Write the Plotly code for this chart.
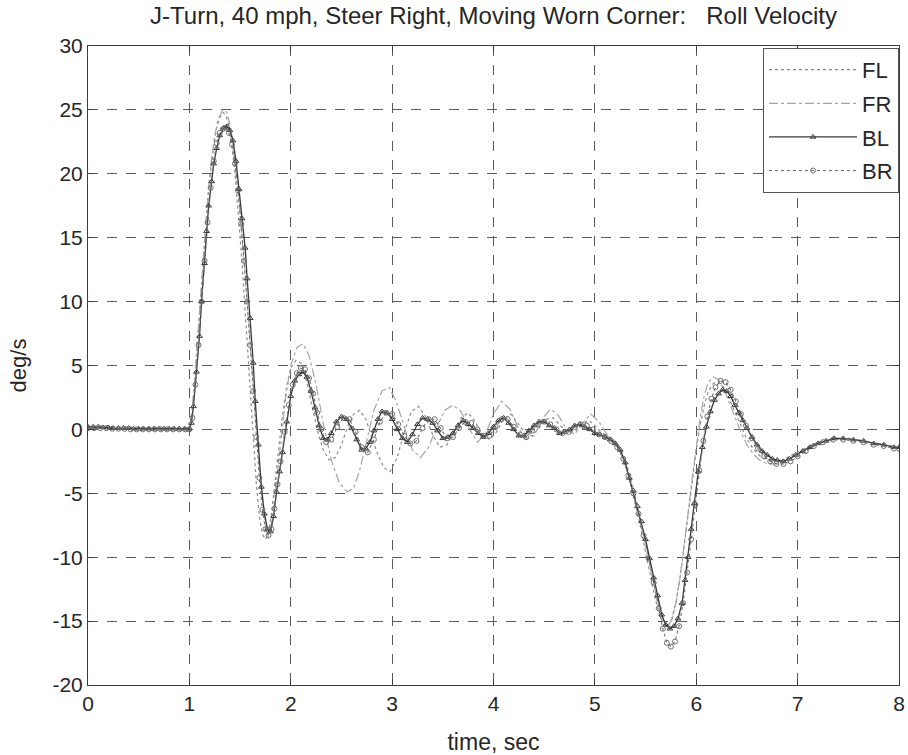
import plotly.graph_objects as go

# ---- time axis and roll-velocity samples (deg/s) for each corner ----
t_bl = [0.00, 0.05, 0.10, 0.15, 0.20, 0.25, 0.30, 0.35, 0.40, 0.45, 0.50, 0.55, 0.60, 0.65,
        0.70, 0.75, 0.80, 0.85, 0.90, 0.95, 1.00,
        1.02, 1.04, 1.07, 1.10, 1.12, 1.15, 1.17, 1.19, 1.22, 1.24, 1.27, 1.30, 1.34, 1.37,
        1.40, 1.43, 1.46, 1.49, 1.52, 1.55, 1.57, 1.60, 1.63, 1.65, 1.68, 1.71, 1.74, 1.77,
        1.80, 1.83, 1.86, 1.89, 1.92, 1.96, 2.00, 2.04, 2.08, 2.12, 2.16, 2.20, 2.24, 2.28,
        2.32, 2.36, 2.40, 2.45, 2.50, 2.55, 2.60, 2.65, 2.70, 2.74, 2.78, 2.82, 2.86, 2.90,
        2.95, 3.00, 3.05, 3.10, 3.15, 3.20, 3.25, 3.30, 3.35, 3.40, 3.45, 3.50, 3.55, 3.60,
        3.65, 3.70, 3.75, 3.80, 3.85, 3.90, 3.95, 4.00, 4.05, 4.10, 4.15, 4.20, 4.25, 4.30,
        4.35, 4.40, 4.45, 4.50, 4.55, 4.60, 4.65, 4.70, 4.75, 4.80, 4.85, 4.90, 4.95, 5.00,
        5.05, 5.10, 5.15, 5.20, 5.25, 5.30, 5.34, 5.38, 5.42, 5.46, 5.50, 5.54, 5.58, 5.62,
        5.66, 5.70, 5.74, 5.78, 5.82, 5.86, 5.89, 5.92, 5.95, 5.98, 6.02, 6.06, 6.10, 6.14,
        6.18, 6.22, 6.26, 6.30, 6.34, 6.38, 6.42, 6.46, 6.50, 6.55, 6.60, 6.65, 6.70, 6.75,
        6.80, 6.86, 6.92, 6.98, 7.05, 7.12, 7.20, 7.28, 7.36, 7.45, 7.55, 7.65, 7.75, 7.85,
        7.95, 8.00]
v_bl = [0.2, 0.2, 0.2, 0.15, 0.15, 0.1, 0.1, 0.1, 0.1, 0.05, 0.05, 0.05, 0.05, 0.05,
        0.05, 0.05, 0.05, 0.05, 0.05, 0.05, 0.05,
        0.5, 1.8, 4.5, 7.3, 10.0, 13.0, 15.5, 17.5, 19.4, 20.8, 22.0, 23.0, 23.6, 23.7,
        23.4, 22.6, 21.0, 18.8, 16.5, 14.2, 11.8, 8.7, 5.2, 2.2, -1.2, -4.5, -6.6, -7.8,
        -8.0, -6.8, -4.9, -3.3, -1.8, 0.6, 2.6, 3.8, 4.3, 4.5, 4.1, 3.0, 1.7, 0.3,
        -0.7, -0.8, -0.3, 0.6, 1.0, 0.8, 0.1, -0.8, -1.6, -1.5, -1.0, -0.1, 0.8, 1.4,
        1.3, 0.8, 0.0, -0.7, -1.0, -0.4, 0.4, 0.9, 0.8, 0.5, -0.1, -0.7, -0.6, -0.3,
        0.3, 0.7, 0.4, 0.1, -0.3, -0.6, -0.3, 0.2, 0.7, 0.9, 0.5, 0.0, -0.5, -0.5,
        -0.1, 0.3, 0.6, 0.6, 0.3, 0.1, -0.3, -0.2, 0.0, 0.3, 0.4, 0.2, 0.0, -0.3,
        -0.4, -0.6, -0.8, -1.1, -1.6, -2.6, -3.8, -4.8, -6.0, -7.2, -8.6, -10.1, -11.6, -13.0,
        -14.5, -15.3, -15.6, -15.4, -14.8, -13.6, -11.8, -10.0, -7.8, -5.8, -3.3, -1.4, 0.2, 1.4,
        2.3, 2.8, 3.1, 3.0, 2.6, 1.9, 1.3, 0.7, 0.1, -0.6, -1.2, -1.7, -2.0, -2.3,
        -2.4, -2.5, -2.3, -2.0, -1.7, -1.4, -1.1, -0.9, -0.7, -0.7, -0.8, -0.9, -1.1, -1.2,
        -1.4, -1.4]

t_br = [0.00, 0.06, 0.12, 0.18, 0.24, 0.30, 0.36, 0.42, 0.48, 0.54, 0.60, 0.66, 0.72, 0.78,
        0.84, 0.90, 0.96, 1.00,
        1.03, 1.06, 1.09, 1.12, 1.15, 1.18, 1.21, 1.24, 1.27, 1.30, 1.33, 1.36, 1.39, 1.42,
        1.45, 1.48, 1.51, 1.54, 1.57, 1.60, 1.63, 1.66, 1.69, 1.72, 1.75, 1.78, 1.81, 1.84,
        1.87, 1.90, 1.94, 1.98, 2.02, 2.06, 2.10, 2.14, 2.18, 2.22, 2.26, 2.30, 2.35, 2.40,
        2.46, 2.52, 2.58, 2.64, 2.70, 2.76, 2.82, 2.88, 2.94, 3.00, 3.06, 3.12, 3.18, 3.24,
        3.30, 3.36, 3.42, 3.48, 3.54, 3.60, 3.66, 3.72, 3.78, 3.84, 3.90, 3.96, 4.02, 4.08,
        4.14, 4.20, 4.26, 4.32, 4.38, 4.44, 4.50, 4.56, 4.62, 4.68, 4.74, 4.80, 4.86, 4.92,
        4.98, 5.04, 5.10, 5.16, 5.22, 5.28, 5.33, 5.38, 5.43, 5.48, 5.53, 5.58, 5.63, 5.67,
        5.71, 5.75, 5.79, 5.83, 5.87, 5.91, 5.95, 5.99, 6.03, 6.07, 6.11, 6.15, 6.19, 6.24,
        6.29, 6.34, 6.39, 6.44, 6.49, 6.55, 6.61, 6.67, 6.73, 6.79, 6.86, 6.93, 7.00, 7.08,
        7.16, 7.25, 7.35, 7.45, 7.55, 7.65, 7.75, 7.85, 7.95, 8.00]
v_br = [0.1, 0.1, 0.1, 0.1, 0.05, 0.05, 0.05, 0.0, 0.0, 0.0, 0.0, 0.0, 0.0, 0.0,
        0.0, 0.0, 0.0, 0.0,
        0.9, 3.5, 6.6, 10.0, 13.2, 16.2, 18.9, 21.0, 22.4, 23.2, 23.5, 23.6, 23.2, 22.3,
        20.8, 18.7, 16.1, 13.2, 10.0, 6.6, 3.0, -0.6, -3.8, -6.3, -7.8, -8.3, -7.8, -6.2,
        -4.3, -2.5, -0.2, 1.9, 3.5, 4.4, 4.8, 4.7, 4.0, 2.8, 1.3, 0.0, -1.0, -0.8,
        0.2, 0.9, 0.8, -0.2, -1.4, -1.8, -0.8, 0.6, 1.3, 1.2, 0.4, -0.5, -1.1, -0.9,
        0.1, 0.8, 0.8, 0.1, -0.7, -0.6, 0.1, 0.6, 0.5, 0.0, -0.5, -0.5, 0.2, 0.8,
        0.8, 0.2, -0.4, -0.6, -0.1, 0.4, 0.6, 0.4, 0.0, -0.3, -0.2, 0.2, 0.4, 0.3,
        0.0, -0.4, -0.6, -0.9, -1.4, -2.3, -3.6, -5.0, -6.6, -8.3, -10.1, -12.0, -14.0, -15.6,
        -16.7, -17.0, -16.6, -15.4, -13.6, -11.2, -8.6, -5.9, -3.2, -0.9, 1.0, 2.4, 3.3, 3.8,
        3.7, 3.1, 2.2, 1.2, 0.3, -0.7, -1.5, -2.1, -2.5, -2.7, -2.7, -2.5, -2.1, -1.7,
        -1.3, -1.0, -0.8, -0.8, -0.9, -1.0, -1.2, -1.3, -1.5, -1.5]

t_fl = [0.00, 0.10, 0.20, 0.30, 0.40, 0.50, 0.60, 0.70, 0.80, 0.90, 1.00,
        1.03, 1.06, 1.09, 1.12, 1.15, 1.18, 1.21, 1.24, 1.27, 1.30, 1.33, 1.36, 1.39, 1.42,
        1.45, 1.48, 1.51, 1.54, 1.57, 1.60, 1.63, 1.66, 1.69, 1.72, 1.75, 1.78, 1.81, 1.84,
        1.88, 1.92, 1.96, 2.00, 2.05, 2.10, 2.15, 2.20, 2.26, 2.32, 2.38, 2.44, 2.50, 2.56,
        2.62, 2.68, 2.74, 2.80, 2.86, 2.92, 2.98, 3.05, 3.12, 3.19, 3.26, 3.33, 3.40, 3.47,
        3.54, 3.61, 3.68, 3.75, 3.82, 3.89, 3.96, 4.03, 4.10, 4.17, 4.24, 4.31, 4.38, 4.45,
        4.52, 4.59, 4.66, 4.73, 4.80, 4.87, 4.94, 5.00, 5.06, 5.12, 5.18, 5.24, 5.30, 5.35,
        5.40, 5.45, 5.50, 5.55, 5.60, 5.64, 5.68, 5.72, 5.76, 5.80, 5.84, 5.88, 5.92, 5.96,
        6.00, 6.04, 6.08, 6.12, 6.17, 6.22, 6.27, 6.32, 6.37, 6.43, 6.49, 6.56, 6.63, 6.70,
        6.77, 6.85, 6.93, 7.02, 7.12, 7.24, 7.36, 7.50, 7.65, 7.80, 7.95, 8.00]
v_fl = [0.2, 0.2, 0.15, 0.1, 0.1, 0.05, 0.05, 0.05, 0.05, 0.05, 0.05,
        1.4, 4.6, 8.0, 11.6, 14.8, 17.8, 20.2, 22.2, 23.6, 24.4, 24.8, 24.6, 23.8, 22.2,
        20.0, 17.2, 14.0, 10.5, 6.8, 3.0, -0.8, -4.2, -6.8, -8.2, -8.6, -8.2, -6.6, -4.4,
        -1.6, 1.2, 3.4, 4.8, 5.4, 5.2, 4.0, 2.2, 0.0, -1.6, -2.4, -2.2, -1.2, 0.2,
        1.2, 1.5, 0.8, -0.6, -2.0, -3.0, -3.3, -2.2, -0.2, 1.4, 1.8, 1.0, -0.4, -1.4,
        -1.2, -0.2, 0.9, 1.3, 0.6, -0.4, -0.8, -0.2, 0.8, 1.2, 0.5, -0.3, -0.5, 0.1,
        0.8, 0.9, 0.3, -0.2, -0.2, 0.4, 0.7, 0.3, -0.2, -0.5, -0.9, -1.6, -2.8, -4.2,
        -5.8, -7.6, -9.6, -11.6, -13.4, -14.6, -15.3, -15.4, -14.8, -13.5, -11.6, -9.2, -6.6, -4.0,
        -1.6, 0.4, 1.9, 3.0, 3.6, 3.7, 3.3, 2.5, 1.6, 0.5, -0.6, -1.5, -2.1, -2.4,
        -2.5, -2.4, -2.1, -1.7, -1.3, -0.9, -0.7, -0.7, -0.9, -1.1, -1.3, -1.4]

t_fr = [0.00, 0.10, 0.20, 0.30, 0.40, 0.50, 0.60, 0.70, 0.80, 0.90, 1.00,
        1.02, 1.05, 1.08, 1.11, 1.14, 1.17, 1.20, 1.24, 1.28, 1.33, 1.37, 1.41, 1.45, 1.50,
        1.55, 1.60, 1.65, 1.70, 1.75, 1.78, 1.82, 1.86, 1.90, 1.95, 2.00, 2.06, 2.12, 2.18,
        2.25, 2.32, 2.40, 2.48, 2.56, 2.62, 2.68, 2.75, 2.82, 2.90, 2.97, 3.04, 3.12, 3.20,
        3.28, 3.36, 3.44, 3.52, 3.60, 3.68, 3.76, 3.84, 3.92, 4.00, 4.08, 4.16, 4.24, 4.32,
        4.40, 4.48, 4.56, 4.64, 4.72, 4.80, 4.88, 4.96, 5.04, 5.12, 5.20, 5.26, 5.32, 5.38,
        5.44, 5.50, 5.55, 5.60, 5.64, 5.68, 5.72, 5.76, 5.80, 5.84, 5.88, 5.92, 5.96, 6.00,
        6.04, 6.08, 6.12, 6.17, 6.22, 6.27, 6.32, 6.38, 6.44, 6.50, 6.57, 6.64, 6.71, 6.78,
        6.86, 6.94, 7.03, 7.13, 7.24, 7.36, 7.50, 7.65, 7.80, 7.95, 8.00]
v_fr = [0.15, 0.15, 0.1, 0.1, 0.1, 0.05, 0.05, 0.05, 0.05, 0.05, 0.05,
        1.0, 3.5, 7.0, 10.5, 14.0, 17.0, 19.8, 22.5, 24.2, 25.0, 24.8, 23.5, 21.0, 17.0,
        12.0, 6.5, 1.0, -4.0, -7.5, -8.4, -7.0, -4.0, -1.0, 2.5, 5.0, 6.4, 6.7, 5.8,
        3.5, 0.5, -2.4, -4.2, -4.9, -4.6, -3.2, -0.8, 1.5, 3.0, 3.3, 2.2, 0.2, -1.6,
        -2.2, -1.4, 0.2, 1.5, 1.9, 1.4, 0.1, -1.0, -0.4, 1.2, 2.2, 1.6, 0.2, -0.8,
        -0.5, 0.8, 1.6, 1.1, 0.0, -0.4, 0.5, 1.2, 0.6, -0.4, -0.9, -1.6, -2.9, -4.6,
        -6.6, -8.8, -10.8, -12.8, -14.2, -15.1, -15.4, -14.9, -13.6, -11.6, -9.2, -6.5, -3.8, -1.2,
        1.0, 2.7, 3.7, 4.1, 3.9, 3.2, 2.2, 1.0, -0.2, -1.2, -2.0, -2.5, -2.7, -2.7,
        -2.5, -2.2, -1.8, -1.4, -1.0, -0.8, -0.7, -0.9, -1.1, -1.3, -1.4]

# ---- axis ticks (plain hyphen minus signs, as printed) ----
x_ticks = [0, 1, 2, 3, 4, 5, 6, 7, 8]
x_labels = ["0", "1", "2", "3", "4", "5", "6", "7", "8"]
y_ticks = [-20, -15, -10, -5, 0, 5, 10, 15, 20, 25, 30]
y_labels = ["-20", "-15", "-10", "-5", "0", "5", "10", "15", "20", "25", "30"]

FONT = "Liberation Sans, Arial, Helvetica, sans-serif"
INK = "#262626"

fig = go.Figure()

fig.add_trace(go.Scatter(
    x=t_fl, y=v_fl, name="FL", mode="lines", legendgroup="fl",
    line=dict(color="#8c8c8c", width=1.2, dash="dot"),
))
fig.add_trace(go.Scatter(
    x=t_fr, y=v_fr, name="FR", mode="lines", legendgroup="fr",
    line=dict(color="#a6a6a6", width=1.2, dash="dashdot"),
))
fig.add_trace(go.Scatter(
    x=t_bl, y=v_bl, name="BL", mode="lines+markers", legendgroup="bl",
    line=dict(color="#3a3a3a", width=1.3),
    marker=dict(symbol="triangle-up-open", size=5, color="#3a3a3a", line=dict(width=1)),
))
fig.add_trace(go.Scatter(
    x=t_br, y=v_br, name="BR", mode="lines+markers", legendgroup="br",
    line=dict(color="#6e6e6e", width=1.1, dash="dot"),
    marker=dict(symbol="circle-open", size=5, color="#6e6e6e", line=dict(width=1)),
))

axis_common = dict(
    showline=True, linecolor="#3c3c3c", linewidth=1, mirror="allticks",
    ticks="inside", ticklen=6, tickcolor="#3c3c3c", tickwidth=1,
    showgrid=True, gridcolor="#5a5a5a", gridwidth=1, griddash="10px,9px",
    zeroline=False, tickmode="array", automargin=False,
    tickfont=dict(family=FONT, size=21, color=INK),
)

fig.update_layout(
    width=908, height=755,
    margin=dict(l=88, r=9, t=46, b=70),
    paper_bgcolor="white", plot_bgcolor="white",
    font=dict(family=FONT, size=21, color=INK),
    title=dict(
        text="J-Turn, 40 mph, Steer Right, Moving Worn Corner:   Roll Velocity",
        x=0.5, xref="paper", xanchor="center",
        y=1 - 16 / 755, yref="container", yanchor="middle",
        font=dict(family=FONT, size=24, color=INK),
    ),
    xaxis=dict(range=[0, 8], tickvals=x_ticks, ticktext=x_labels,
               title=dict(text="time, sec", standoff=26,
                          font=dict(family=FONT, size=23, color=INK)),
               **axis_common),
    yaxis=dict(range=[-20, 30], tickvals=y_ticks, ticktext=y_labels,
               title=dict(text="deg/s", standoff=19,
                          font=dict(family=FONT, size=22, color=INK)),
               **axis_common),
    legend=dict(
        x=1, xanchor="right", y=0.997, yanchor="top",
        bgcolor="white", bordercolor="#555555", borderwidth=1,
        font=dict(family=FONT, size=22, color=INK),
        itemwidth=88, tracegroupgap=2, traceorder="grouped",
    ),
    showlegend=True,
)

fig.write_html("out.html")
